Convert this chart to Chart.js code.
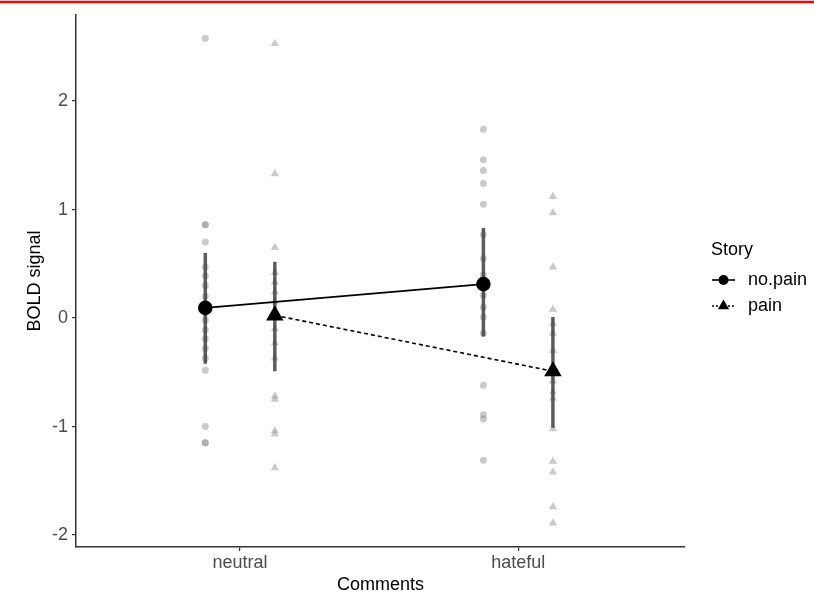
<!DOCTYPE html>
<html>
<head>
<meta charset="utf-8">
<script src="https://cdn.jsdelivr.net/npm/chart.js@4.4.1/dist/chart.umd.min.js"></script>
<style>
  html, body { margin: 0; padding: 0; background: #fff; }
  #wrap { position: relative; width: 814px; height: 594px; }
  .linea { position: absolute; left: 0; width: 814px; }
</style>
</head>
<body>
<div id="wrap">
  <canvas id="myChart" width="814" height="594"></canvas>
  <div class="linea" style="top:0;height:1px;background:#f3b9b9"></div>
  <div class="linea" style="top:1px;height:2px;background:#d8121b"></div>
  <div class="linea" style="top:3px;height:1px;background:#f3b9b9"></div>
</div>
<script>
// categorías y grupos
const categorias = ['neutral', 'hateful']
const grupos = ['no.pain', 'pain']
const ticksY = [-2, -1, 0, 1, 2]

// puntos individuales por categoría y grupo
const neutralNoPain = [2.58, 0.86, 0.86, 0.70, 0.47, 0.39, 0.30, 0.20, 0.12, 0.05, -0.02, -0.11, -0.19, -0.28, -0.37, -0.48, -1.00, -1.15, -1.15]
const neutralPain = [2.53, 1.33, 0.65, 0.42, 0.33, 0.24, 0.15, 0.05, -0.10, -0.23, -0.37, -0.72, -0.75, -1.04, -1.07, -1.38]
const hatefulNoPain = [1.74, 1.46, 1.36, 1.24, 1.05, 0.77, 0.55, 0.40, 0.21, 0.10, 0.01, -0.14, -0.62, -0.89, -0.93, -1.31]
const hatefulPain = [1.12, 0.97, 0.47, 0.08, -0.05, -0.14, -0.30, -0.58, -0.68, -0.74, -1.02, -1.32, -1.42, -1.74, -1.89]

// medias y barras de error (neutral, hateful)
const mediaNoPain = [0.094, 0.313]
const mediaPain = [0.025, -0.49]
const errInfNoPain = [-0.42, -0.17]
const errSupNoPain = [0.60, 0.83]
const errInfPain = [-0.49, -1.01]
const errSupPain = [0.52, 0.01]

const dodge = 0.125
const fuente = '"Liberation Sans", Arial, Helvetica, sans-serif'

function puntos(valores, x) {
  return valores.map(v => ({ x: x, y: v }))
}

function barraError(x, inf, sup) {
  return {
    type: 'line',
    data: [{ x: x, y: inf }, { x: x, y: sup }],
    borderColor: 'rgba(65, 65, 65, 0.85)',
    borderWidth: 3.5,
    pointRadius: 0,
    showLine: true,
    order: 1
  }
}

const datasets = [
  {
    label: grupos[0],
    type: 'line',
    data: mediaNoPain.map((v, i) => ({ x: i + 1 - dodge, y: v })),
    borderColor: '#000',
    backgroundColor: '#000',
    borderWidth: 1.6,
    pointStyle: 'circle',
    pointRadius: 6.5,
    showLine: true,
    order: 0
  },
  {
    label: grupos[1],
    type: 'line',
    data: mediaPain.map((v, i) => ({ x: i + 1 + dodge, y: v })),
    borderColor: '#000',
    backgroundColor: '#000',
    borderWidth: 1.6,
    borderDash: [4, 3],
    pointStyle: 'triangle',
    pointRadius: 8.5,
    showLine: true,
    order: 0
  }
]

for (let i = 0; i < categorias.length; i++) {
  datasets.push(barraError(i + 1 - dodge, errInfNoPain[i], errSupNoPain[i]))
  datasets.push(barraError(i + 1 + dodge, errInfPain[i], errSupPain[i]))
}

const crudos = [
  { valores: neutralNoPain, x: 1 - dodge, estilo: 'circle' },
  { valores: neutralPain, x: 1 + dodge, estilo: 'triangle' },
  { valores: hatefulNoPain, x: 2 - dodge, estilo: 'circle' },
  { valores: hatefulPain, x: 2 + dodge, estilo: 'triangle' }
]

crudos.forEach(c => {
  datasets.push({
    type: 'scatter',
    data: puntos(c.valores, c.x),
    pointStyle: c.estilo,
    pointRadius: c.estilo === 'circle' ? 3.5 : 4.8,
    backgroundColor: 'rgba(150, 150, 150, 0.5)',
    borderWidth: 0,
    order: 2
  })
})

/**
 * leyenda al estilo ggplot: línea + marcador
 */
const leyendaStory = {
  id: 'leyendaStory',
  afterDraw(chart) {
    const ctx = chart.ctx
    const x0 = chart.chartArea.right + 26
    ctx.save()
    ctx.fillStyle = '#000'
    ctx.textBaseline = 'middle'
    ctx.font = '18px ' + fuente
    ctx.fillText('Story', x0, 250)

    const filas = [
      { texto: grupos[0], y: 280, dash: [], estilo: 'circle' },
      { texto: grupos[1], y: 306, dash: [2, 2], estilo: 'triangle' }
    ]
    filas.forEach(f => {
      ctx.strokeStyle = '#000'
      ctx.lineWidth = 1.6
      ctx.setLineDash(f.dash)
      ctx.beginPath()
      ctx.moveTo(x0 + 1, f.y)
      ctx.lineTo(x0 + 24, f.y)
      ctx.stroke()
      ctx.setLineDash([])
      ctx.beginPath()
      if (f.estilo === 'circle') {
        ctx.arc(x0 + 12.5, f.y, 5, 0, Math.PI * 2)
      } else {
        const r = 6.5
        ctx.moveTo(x0 + 12.5, f.y - r)
        ctx.lineTo(x0 + 12.5 + r * 0.866, f.y + r / 2)
        ctx.lineTo(x0 + 12.5 - r * 0.866, f.y + r / 2)
        ctx.closePath()
      }
      ctx.fill()
      ctx.fillText(f.texto, x0 + 37, f.y)
    })
    ctx.restore()
  }
}

const ctx = document.getElementById('myChart')

new Chart(ctx, {
  type: 'scatter',
  data: { datasets: datasets },
  options: {
    responsive: false,
    animation: false,
    layout: { padding: { left: 0, right: 129, top: 10, bottom: 0 } },
    plugins: {
      legend: { display: false },
      tooltip: { enabled: false }
    },
    scales: {
      x: {
        type: 'linear',
        min: 0.41,
        max: 2.6,
        afterBuildTicks: scale => { scale.ticks = categorias.map((c, i) => ({ value: i + 1 })) },
        afterFit: scale => { scale.height = 47 },
        ticks: {
          callback: v => categorias[v - 1],
          color: '#4d4d4d',
          font: { family: fuente, size: 18 },
          padding: 1,
          autoSkip: false,
          maxRotation: 0
        },
        grid: { display: true, drawOnChartArea: false, drawTicks: true, tickLength: 4, color: '#333', lineWidth: 1.2 },
        border: { display: true, color: '#333', width: 1.5 },
        title: {
          display: true,
          text: 'Comments',
          color: '#000',
          font: { family: fuente, size: 18, lineHeight: 1 },
          padding: 0
        }
      },
      y: {
        type: 'linear',
        min: -2.11,
        max: 2.795,
        afterBuildTicks: scale => { scale.ticks = ticksY.map(v => ({ value: v })) },
        afterFit: scale => { scale.width = 76 },
        ticks: {
          color: '#4d4d4d',
          font: { family: fuente, size: 18 },
          padding: 4
        },
        grid: { display: true, drawOnChartArea: false, drawTicks: true, tickLength: 4, color: '#333', lineWidth: 1.2 },
        border: { display: true, color: '#333', width: 1.5 },
        title: {
          display: true,
          text: 'BOLD signal',
          color: '#000',
          font: { family: fuente, size: 18, lineHeight: 1 },
          padding: { top: 26, bottom: 0 }
        }
      }
    }
  },
  plugins: [leyendaStory]
})
</script>
</body>
</html>
